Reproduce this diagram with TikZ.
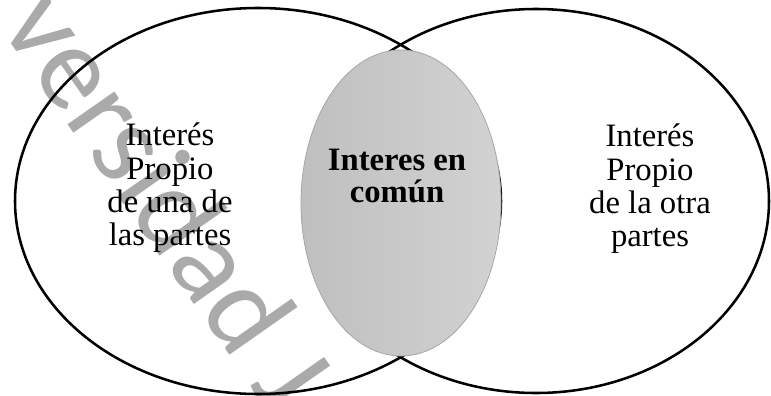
\documentclass[tikz,border=0pt]{standalone}
\usepackage{fontspec}
\setmainfont{Liberation Serif}
\newfontfamily\marcafont{Carlito}
\usepackage{xcolor}
\usetikzlibrary{shapes.geometric, positioning}

\definecolor{marcagris}{HTML}{AAAAAA}
\definecolor{comunizq}{HTML}{BFBFBF}
\definecolor{comunder}{HTML}{D2D2D2}

\begin{document}
\begin{tikzpicture}[x=0.75pt, y=-0.75pt,
  conjunto/.style={ellipse, draw=black, line width=1.9pt, inner sep=0pt},
  comun/.style={ellipse, draw=gray!70, line width=0.6pt, left color=comunizq, right color=comunder, inner sep=0pt},
  texto/.style={align=center, inner sep=0pt, font=\fontsize{24.5}{25}\selectfont}]
\useasboundingbox (0,0) rectangle (771,396);

% marca de agua
\node[marcagris, rotate=-55, anchor=base west, font=\marcafont\fontsize{90}{90}\selectfont] (marca) at (-4,22) {versidad J};

% conjuntos
\node[conjunto, minimum width=364.5pt, minimum height=289.5pt] (izq) at (258,201) {};
\node[conjunto, minimum width=349.5pt, minimum height=288pt] (der) at (536,201) {};
\node[comun, minimum width=150pt, minimum height=229.5pt] (medio) at (401,203) {};

% textos
\node[texto] (txtizq) at (170,188) {Interés\\Propio\\de una de\\las partes};
\node[texto] (txtder) at (650,189) {Interés\\Propio\\de la otra\\partes};
\node[texto, font=\fontsize{24.5}{24}\selectfont\bfseries] (txtmedio) at (397,176) {Interes en\\común};
\end{tikzpicture}
\end{document}
